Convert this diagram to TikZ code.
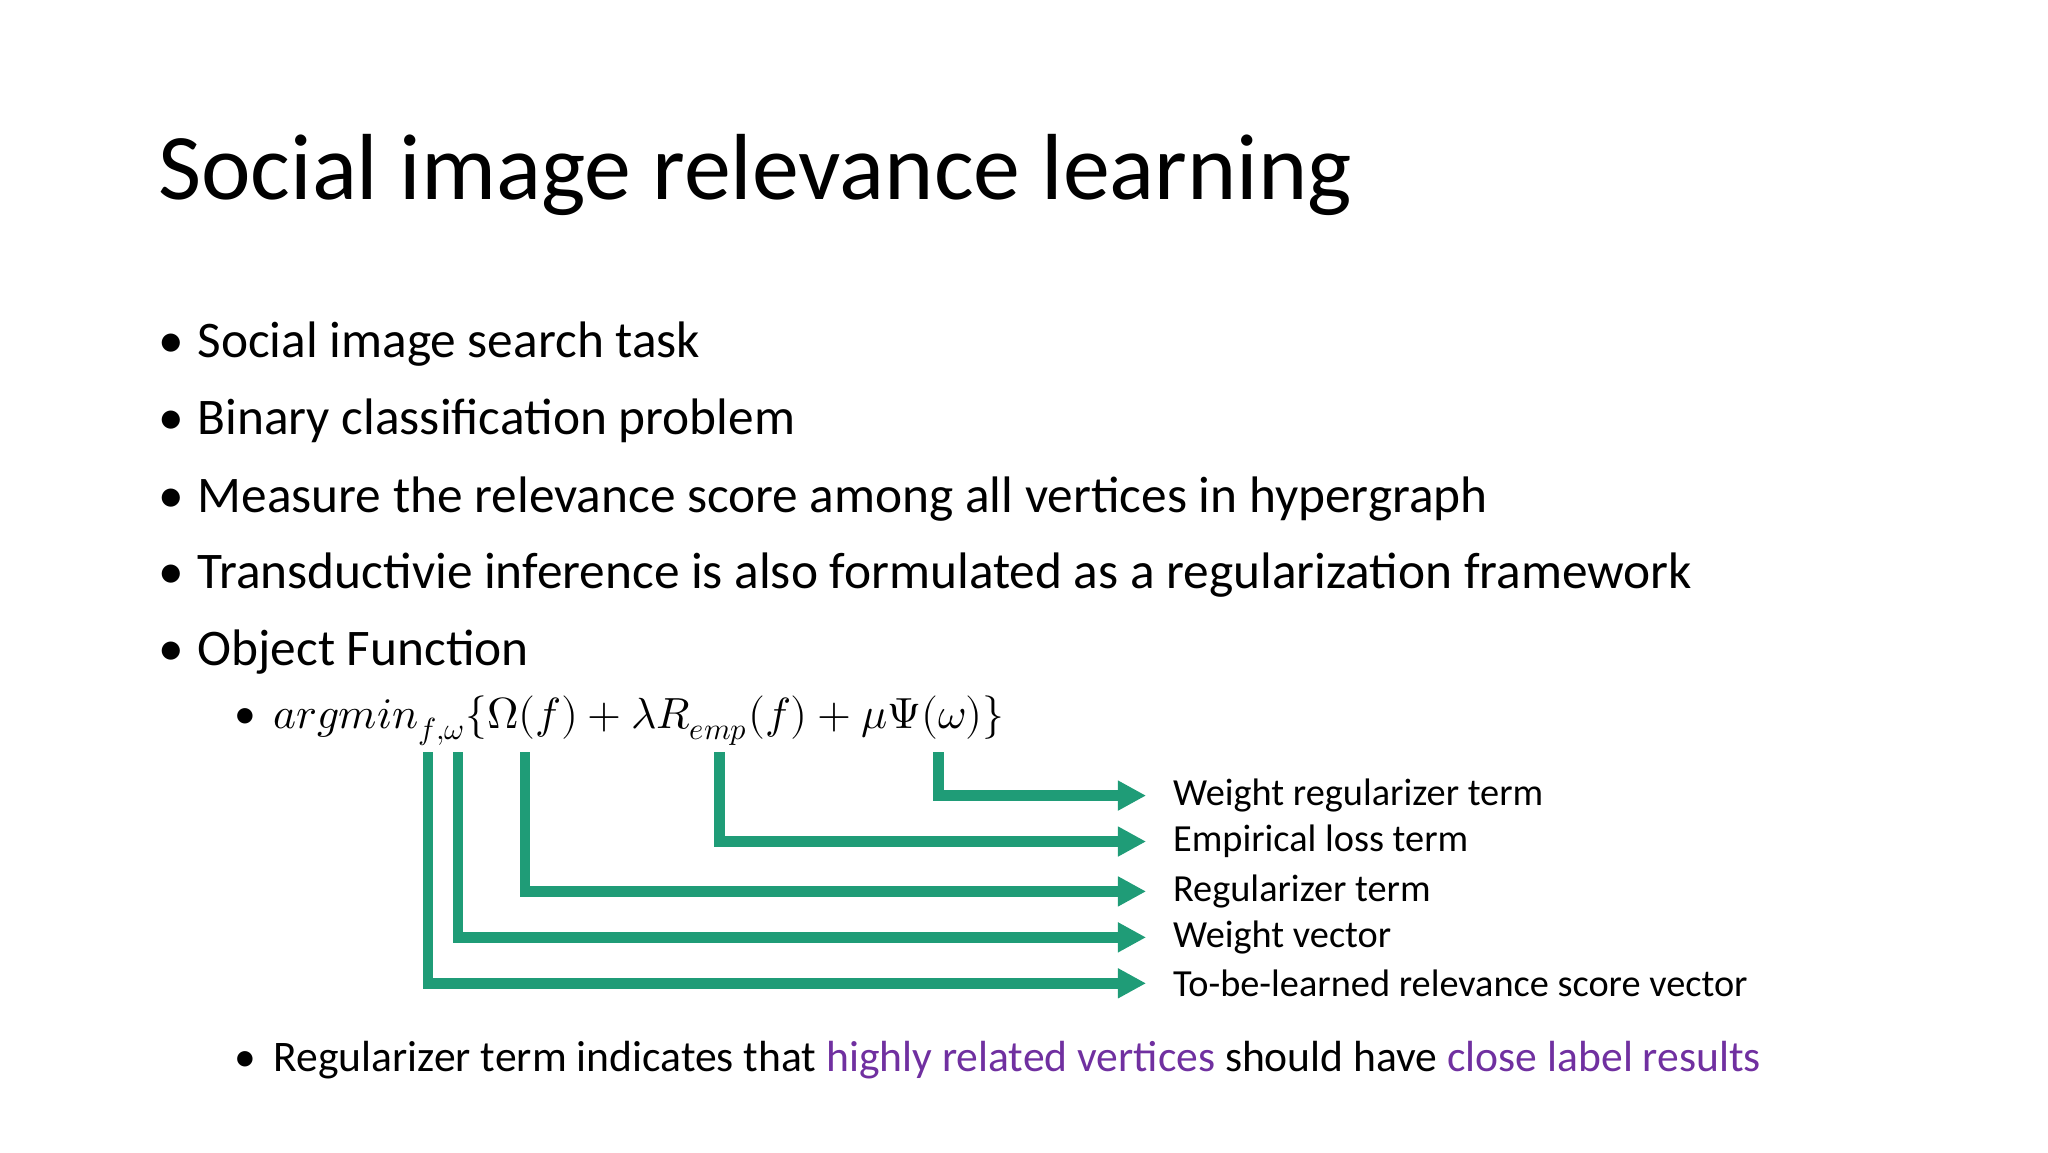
\documentclass[tikz,border=0pt]{standalone}
\usepackage{fontspec}
\setmainfont{Carlito}
\usepackage{unicode-math}
\setmathfont{Latin Modern Math}
\usetikzlibrary{arrows.meta}
\definecolor{gr}{HTML}{1F9C77}
\definecolor{pur}{HTML}{7030A0}
\tikzset{
 txt/.style={anchor=base west, inner sep=0pt, font=\fontsize{14.6}{17}\selectfont},
 sub/.style={anchor=base west, inner sep=0pt, font=\fontsize{12.4}{15}\selectfont},
 lbl/.style={anchor=west, inner sep=0pt, font=\fontsize{10.9}{13}\selectfont},
 conn/.style={draw=gr, line width=3pt, -{Triangle[length=8pt,width=8pt]}}
}
\begin{document}
\begin{tikzpicture}[x=0.013128cm,y=-0.013128cm]
\useasboundingbox (0,0) rectangle (1560,877.5);
\node[anchor=base west, inner sep=0pt, font=\fontsize{26.7}{30}\selectfont] (title) at (120,152) {Social image relevance learning};
\foreach \y/\t [count=\i] in {272/Social image search task, 331/Binary classification problem, 390/Measure the relevance score among all vertices in hypergraph, 448/Transductivie inference is also formulated as a regularization framework, 507/Object Function}{
  \node[txt] (b\i) at (120,\y) {•};
  \node[txt] (t\i) at (150,\y) {\t};
}
\node[sub] (s1) at (178,555) {•};
\node[sub] (eq) at (208,555) {$argmin_{f,\omega}\{\Omega(f)+\lambda R_{emp}(f)+\mu\Psi(\omega)\}$};
\node[sub] (s2) at (178,816) {•};
\node[sub] (last) at (208,816) {Regularizer term indicates that \textcolor{pur}{highly related vertices} should have \textcolor{pur}{close label results}};
\foreach \x/\y/\t [count=\i] in {715/606/Weight regularizer term, 548/641/Empirical loss term, 400/679/Regularizer term, 349/714/Weight vector, 326/749/To-be-learned relevance score vector}{
  \coordinate (top\i) at (\x,573);
  \coordinate (c\i) at (\x,\y);
  \coordinate (e\i) at (873,\y);
  \node[lbl] (l\i) at (893,\y) {\t};
  \draw[conn] (top\i) -- (c\i) -- (e\i);
}
\end{tikzpicture}
\end{document}
